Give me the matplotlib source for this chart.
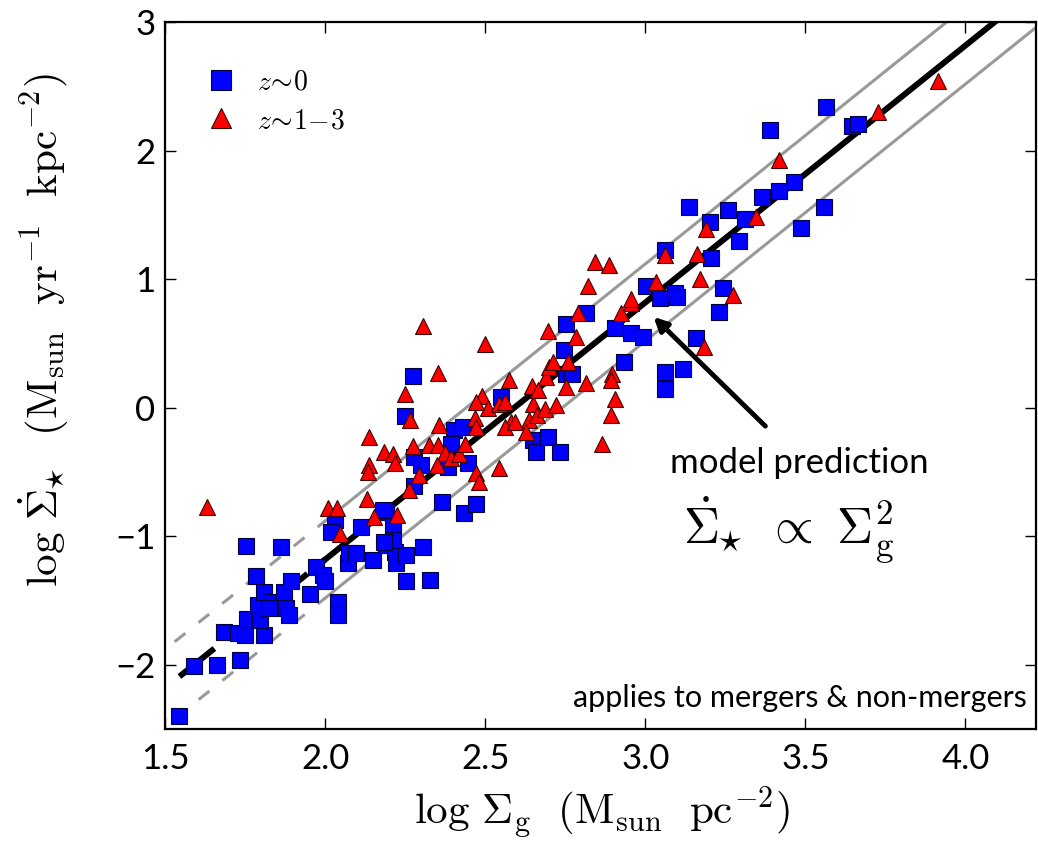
import matplotlib
matplotlib.use('Agg')
import matplotlib.pyplot as plt
import numpy as np

plt.rcParams['font.family'] = ['Lato', 'DejaVu Sans']
plt.rcParams['mathtext.fontset'] = 'cm'

# z ~ 0 sample (log gas surface density, log SFR surface density)
z0_x = [1.545, 1.592, 1.662, 1.735, 1.685, 1.727, 1.751, 1.808, 1.756, 1.797,
        1.789, 1.784, 1.810, 1.836, 1.826, 1.873, 1.878, 1.888, 1.894, 1.953,
        1.972, 1.992, 2.000, 2.040, 2.040, 2.070, 1.753, 1.862, 2.076, 2.151,
        2.190, 2.217, 2.222, 2.253, 2.305, 2.253, 2.326, 2.032, 2.019, 2.113,
        2.190, 2.211, 2.211, 2.185, 2.097, 2.279, 2.300, 2.279, 2.274, 2.251,
        2.404, 2.430, 2.394, 2.446, 2.383, 2.366, 2.435, 2.470, 2.180, 2.550,
        2.649, 2.659, 2.696, 2.816, 2.751, 2.745, 2.751, 2.772, 2.904, 2.956,
        2.932, 2.732, 3.138, 3.258, 3.310, 3.201, 3.292, 3.060, 3.206, 3.003,
        3.045, 3.092, 3.100, 3.243, 3.230, 2.993, 3.157, 3.063, 3.117, 3.063,
        3.563, 3.390, 3.644, 3.664, 3.463, 3.417, 3.366, 3.557, 3.487]
z0_y = [-2.40, -2.01, -2.00, -1.96, -1.74, -1.75, -1.77, -1.77, -1.64, -1.65,
        -1.53, -1.31, -1.43, -1.51, -1.56, -1.43, -1.56, -1.61, -1.35, -1.45,
        -1.24, -1.30, -1.35, -1.51, -1.61, -1.21, -1.075, -1.085, -1.13, -1.18,
        -1.07, -1.12, -1.21, -1.145, -1.08, -1.35, -1.34, -0.873, -0.964, -0.925,
        -0.81, -0.91, -1.03, -1.04, -1.13, -0.38, -0.445, -0.61, 0.245, -0.065,
        -0.17, -0.15, -0.28, -0.43, -0.46, -0.73, -0.82, -0.75, -0.795, 0.085,
        -0.25, -0.34, -0.225, 0.74, 0.655, 0.45, 0.26, 0.26, 0.62, 0.58,
        0.36, -0.34, 1.56, 1.54, 1.47, 1.45, 1.30, 1.23, 1.17, 0.95,
        0.855, 0.895, 0.86, 0.93, 0.75, 0.55, 0.54, 0.28, 0.30, 0.15,
        2.34, 2.165, 2.19, 2.21, 1.76, 1.69, 1.64, 1.565, 1.40]

# z ~ 1-3 sample
z13_x = [1.630, 2.305, 2.500, 2.352, 2.251, 2.266, 2.136, 2.185, 2.211, 2.217,
         2.138, 2.133, 2.276, 2.324, 2.352, 2.355, 2.373, 2.394, 2.417, 2.438,
         2.349, 2.293, 2.263, 2.130, 2.008, 2.036, 2.154, 2.224, 2.047, 2.470,
         2.482, 2.543, 2.467, 2.470, 2.490, 2.508, 2.574, 2.543, 2.563, 2.581,
         2.563, 2.647, 2.649, 2.638, 2.628, 2.661, 2.688, 2.690, 2.696, 2.471,
         2.592, 2.664, 2.722, 2.700, 2.711, 2.758, 2.753, 2.816, 2.784, 2.789,
         2.925, 2.956, 2.897, 2.894, 2.904, 2.894, 2.866, 2.842, 2.888, 2.821,
         2.956, 3.060, 3.032, 3.161, 3.170, 3.189, 3.345, 3.274, 3.182, 3.727,
         3.417, 3.914]
z13_y = [-0.77, 0.635, 0.50, 0.27, 0.105, -0.095, -0.23, -0.34, -0.355, -0.43,
         -0.445, -0.50, -0.30, -0.29, -0.29, -0.13, -0.35, -0.39, -0.355, -0.28,
         -0.445, -0.52, -0.64, -0.71, -0.78, -0.78, -0.85, -0.83, -0.98, -0.51,
         -0.575, -0.47, -0.075, -0.15, 0.09, 0.003, 0.215, 0.03, 0.047, -0.11,
         -0.15, 0.17, 0.03, -0.095, -0.19, -0.057, -0.005, 0.24, 0.60, 0.047,
         -0.11, 0.14, 0.02, 0.32, 0.36, 0.36, 0.16, 0.19, 0.55, 0.74,
         0.74, 0.82, 0.26, 0.215, 0.07, -0.057, -0.28, 1.135, 1.11, 0.946,
         0.85, 1.19, 0.98, 1.20, 1.006, 1.395, 1.485, 0.876, 0.475, 2.30,
         1.93, 2.545]

# model: log SFR = 2 log Sigma_g + b, with +-0.3 dex band
model_slope = 2.0
model_intercept = -5.18
band_offsets = [0.3, 0.0, -0.3]
band_starts = [1.53, 1.545, 1.605]
dash_end = 2.0
line_end = 4.3

fig = plt.figure(figsize=(10.38, 8.43), dpi=100)
ax = fig.add_axes([0.159, 0.135, 0.839, 0.8385])

for off, x0 in zip(band_offsets, band_starts):
    if off == 0:
        kw = dict(color='black', lw=4.3, zorder=2)
        dash = (7.5, 2.5)
    else:
        kw = dict(color='#999999', lw=2.2, zorder=1)
        dash = (4.5, 5.5)
    xd = np.array([x0, dash_end])
    xs = np.array([dash_end, line_end])
    ax.plot(xd, model_slope * xd + model_intercept + off, dashes=dash,
            solid_capstyle='butt', **kw)
    ax.plot(xs, model_slope * xs + model_intercept + off, **kw)

ax.plot(z0_x, z0_y, 's', ms=11, mfc='#0000ff', mec='#00003a', mew=0.8,
        ls='none', zorder=3, label=r'$z\!\sim\!0$')
ax.plot(z13_x, z13_y, '^', ms=11, mfc='#ff0000', mec='#3a0000', mew=0.8,
        ls='none', zorder=4, label=r'$z\!\sim\!1\!-\!3$')

ax.set_xlim(1.5, 4.22)
ax.set_ylim(-2.5, 3.0)
ax.set_xticks([1.5, 2.0, 2.5, 3.0, 3.5, 4.0])
ax.set_xticklabels(['1.5', '2.0', '2.5', '3.0', '3.5', '4.0'])
ax.set_yticks([-2, -1, 0, 1, 2, 3])
ax.set_yticklabels(['\u22122', '\u22121', '0', '1', '2', '3'])
ax.tick_params(direction='in', length=8, width=1, top=True, right=True,
               labelsize=25)
ax.tick_params(axis='x', pad=10)
ax.tick_params(axis='y', pad=7)
for sp in ax.spines.values():
    sp.set_linewidth(1.6)

ax.set_xlabel(r'$\log\,\Sigma_{\rm g}\ \ ({\rm M_{sun}\ \ pc^{-2}})$',
              fontsize=31)
ax.set_ylabel(r'$\log\,\dot{\Sigma}_{\!\!\star}\ \ ({\rm M_{sun}\ \ yr^{-1}\ \ kpc^{-2}})$',
              fontsize=31)
ax.xaxis.set_label_coords(0.502, -0.077)
ax.yaxis.set_label_coords(-0.108, 0.565)

ax.legend(loc='upper left', frameon=False, fontsize=20, markerscale=1.3,
          numpoints=1, handlelength=1.0, handletextpad=0.8, labelspacing=0.45,
          bbox_to_anchor=(0.02, 0.97))

ax.annotate('', xy=(3.026, 0.708), xytext=(3.375, -0.142),
            arrowprops=dict(arrowstyle='-|>,head_length=0.8,head_width=0.4',
                            color='black', lw=3.5, shrinkA=0, shrinkB=0))
ax.text(3.48, -0.43, 'model prediction', fontsize=25, ha='center', va='center')
ax.text(3.448, -0.95, r'$\dot{\Sigma}_{\!\!\star}\ \propto\ \Sigma_{\rm g}^2$',
        fontsize=36, ha='center', va='center')
ax.text(0.99, 0.044, 'applies to mergers & non-mergers', fontsize=22,
        ha='right', va='center', transform=ax.transAxes)

fig.savefig('out.png', dpi=100)
